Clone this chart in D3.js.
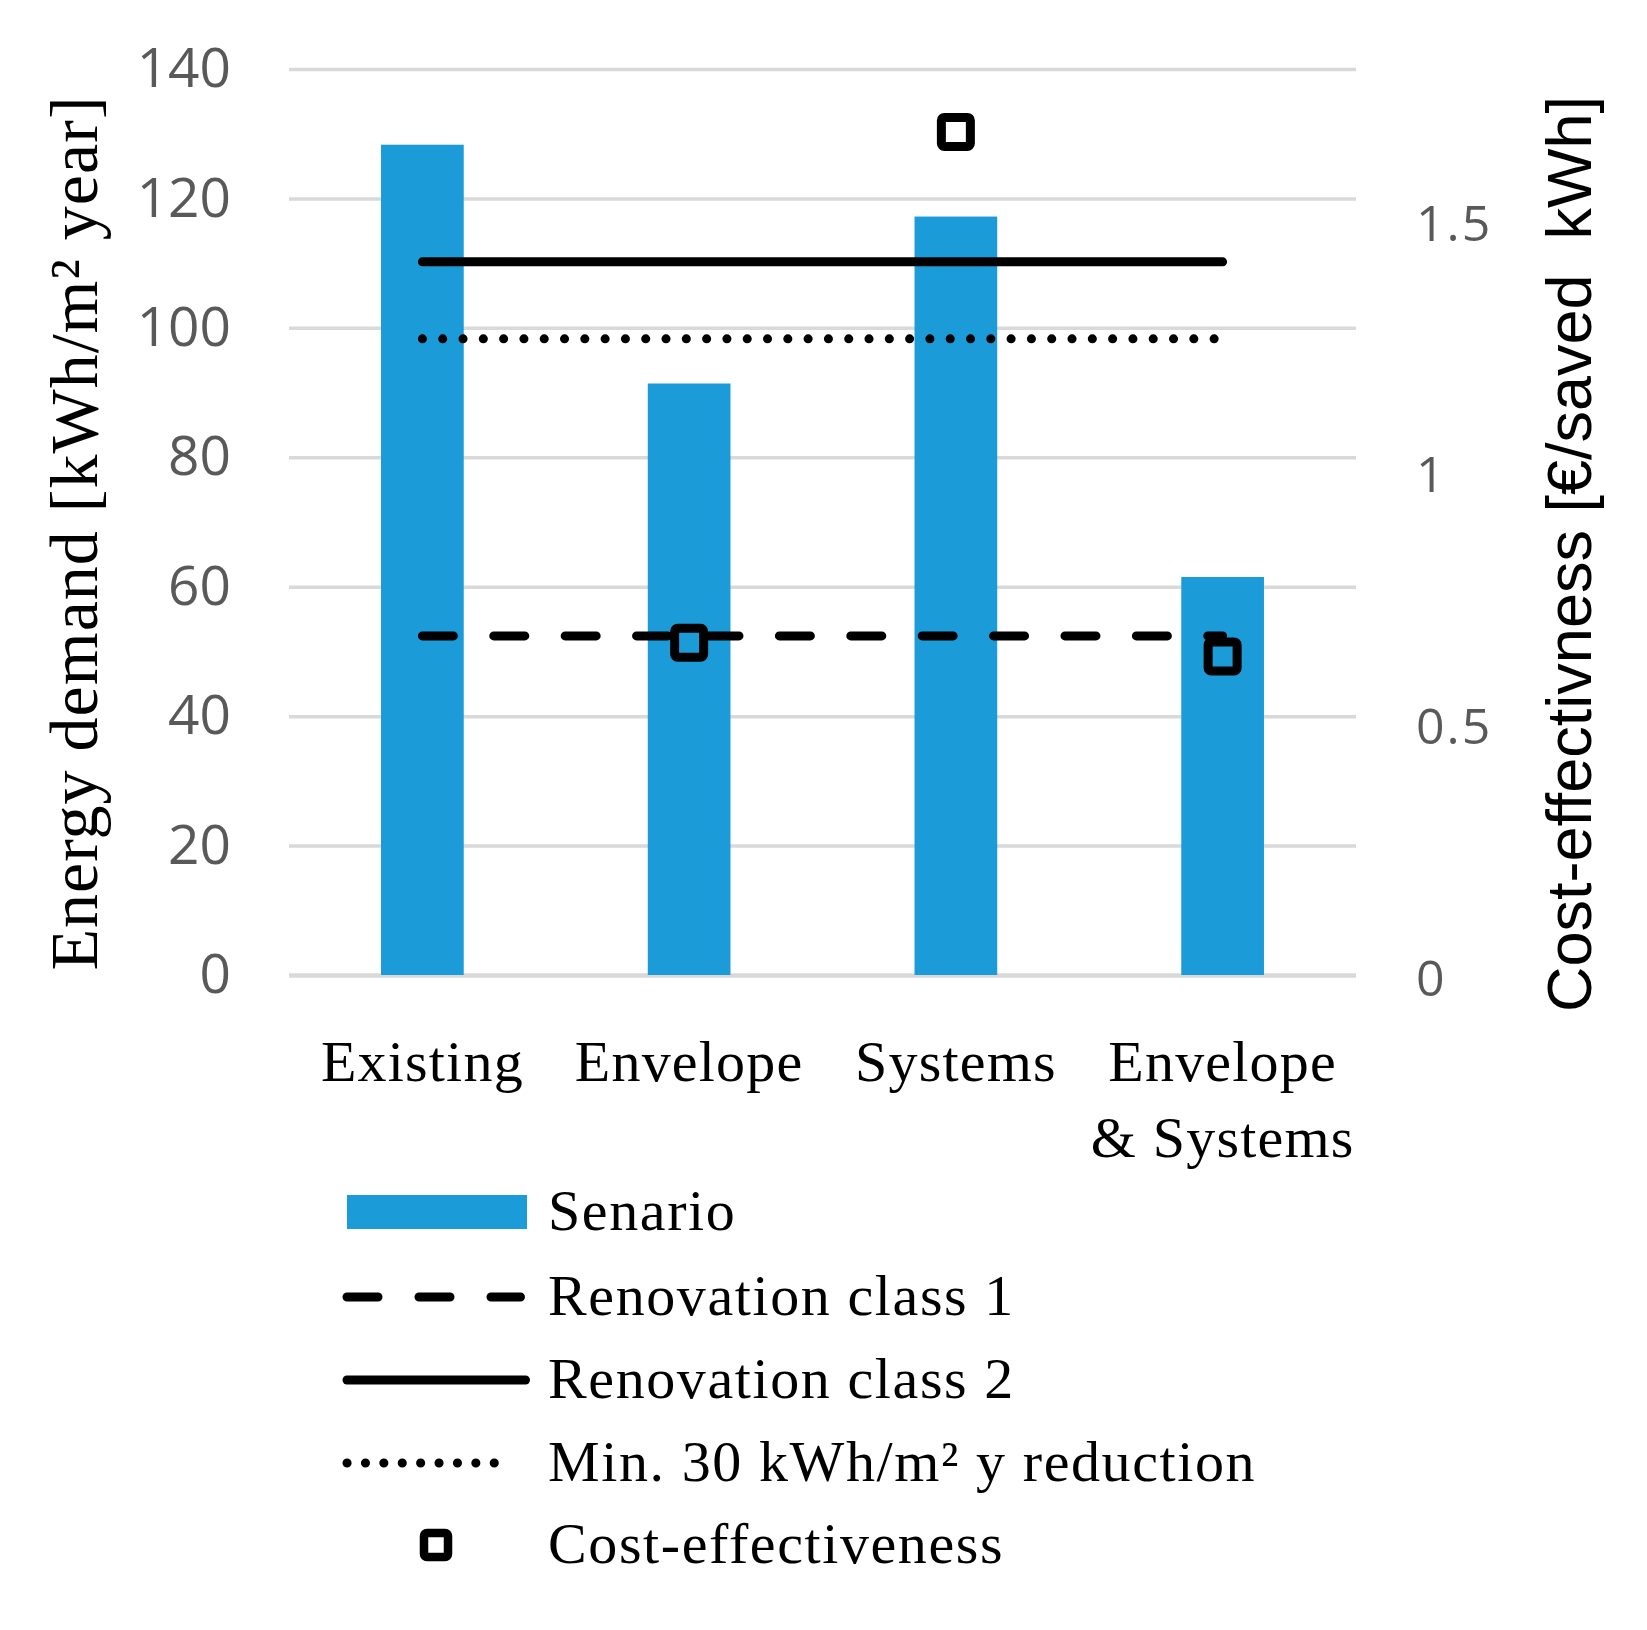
<!DOCTYPE html>
<html>
<head>
<meta charset="utf-8">
<script src="https://cdn.jsdelivr.net/npm/d3@7"></script>
<style>
  body { margin: 0; background: #fff; }
  text { white-space: pre; }
</style>
</head>
<body>
<div id="chart"></div>
<script>
// Chart data
const categories = ['Existing', 'Envelope', 'Systems', 'Envelope & Systems'];
const categoryLines = [['Existing'], ['Envelope'], ['Systems'], ['Envelope', '& Systems']];
const scenario = [128.3, 91.4, 117.2, 61.5];
const renovationClass1 = [52.4, 52.4, 52.4, 52.4];
const renovationClass2 = [110.2, 110.2, 110.2, 110.2];
const minReduction = [98.3, 98.3, 98.3, 98.3];
const costEffectiveness = [null, 0.66, 1.675, 0.633];
const leftTicks = [0, 20, 40, 60, 80, 100, 120, 140];
const rightTicks = [0, 0.5, 1, 1.5];

const width = 1647;
const height = 1630;
const plot = { left: 289, right: 1356, top: 69, bottom: 975 };
const barColor = '#1b9bd7';

const svg = d3.select('#chart').append('svg')
    .attr('width', width)
    .attr('height', height);

svg.append('rect')
    .attr('width', width)
    .attr('height', height)
    .attr('fill', '#fff');

// Scales
const xScale = d3.scaleBand()
    .domain(categories)
    .range([plot.left, plot.right])
    .paddingInner(0.69)
    .paddingOuter(0.345);

const xCenter = d => xScale(d) + xScale.bandwidth() / 2;

const yScale = d3.scaleLinear()
    .domain([0, 140])
    .range([plot.bottom, plot.top]);

const yRight = d3.scaleLinear()
    .domain([0, 1.8])
    .range([plot.bottom, plot.top]);

// Gridlines + left axis
const yAxis = d3.axisLeft(yScale)
    .tickValues(leftTicks)
    .tickSize(-(plot.right - plot.left))
    .tickPadding(plot.left - 231);

const gy = svg.append('g')
    .attr('transform', `translate(${plot.left}, 0)`)
    .call(yAxis);
gy.select('.domain').remove();
gy.selectAll('.tick line')
    .attr('stroke', '#d9d9d9')
    .attr('stroke-width', d => d === 0 ? 4.5 : 3.5);
gy.selectAll('.tick text')
    .attr('fill', '#595959')
    .style('font-family', '"Open Sans", sans-serif')
    .style('font-size', '55px');

// Right axis
const yAxisRight = d3.axisRight(yRight)
    .tickValues(rightTicks)
    .tickSize(0)
    .tickPadding(1416 - plot.right)
    .tickFormat(d3.format('~g'));

const gr = svg.append('g')
    .attr('transform', `translate(${plot.right}, 0)`)
    .call(yAxisRight);
gr.select('.domain').remove();
gr.selectAll('.tick text')
    .attr('fill', '#595959')
    .attr('dy', '0.4em')
    .style('font-family', '"Open Sans", sans-serif')
    .style('font-size', '50px')
    .style('letter-spacing', '2px');

// Bars
svg.selectAll('.bar')
    .data(categories)
    .enter().append('rect')
    .attr('class', 'bar')
    .attr('x', d => xScale(d))
    .attr('y', (d, i) => yScale(scenario[i]))
    .attr('width', xScale.bandwidth())
    .attr('height', (d, i) => plot.bottom - yScale(scenario[i]))
    .attr('fill', barColor);

// Threshold lines
const line = d3.line()
    .x((d, i) => xCenter(categories[i]))
    .y(d => yScale(d));

const lineStyles = [
    { values: renovationClass2, dash: null },
    { values: minReduction, dash: '0.1 20.2' },
    { values: renovationClass1, dash: '31 40.4' }
];

lineStyles.forEach(s => {
    svg.append('path')
        .datum(s.values)
        .attr('d', line)
        .attr('fill', 'none')
        .attr('stroke', '#000')
        .attr('stroke-width', 9)
        .attr('stroke-linecap', 'round')
        .attr('stroke-dasharray', s.dash);
});

// Cost-effectiveness markers
const markerSide = 29;
svg.selectAll('.marker')
    .data(categories.map((c, i) => ({ c, v: costEffectiveness[i] })).filter(d => d.v !== null))
    .enter().append('rect')
    .attr('class', 'marker')
    .attr('x', d => xCenter(d.c) - markerSide / 2)
    .attr('y', d => yRight(d.v) - markerSide / 2)
    .attr('width', markerSide)
    .attr('height', markerSide)
    .attr('rx', 3)
    .attr('fill', 'none')
    .attr('stroke', '#000')
    .attr('stroke-width', 9);

// X labels
const serif = '"Liberation Serif", "Times New Roman", serif';
categories.forEach((c, i) => {
    categoryLines[i].forEach((t, j) => {
        svg.append('text')
            .attr('x', xCenter(c))
            .attr('y', 1081 + j * 76)
            .attr('text-anchor', 'middle')
            .style('font-family', serif)
            .style('font-size', '58px')
            .style('letter-spacing', '1.2px')
            .text(t);
    });
});

// Axis titles
svg.append('text')
    .attr('transform', `translate(97, 533) rotate(-90)`)
    .attr('text-anchor', 'middle')
    .style('font-family', serif)
    .style('font-size', '68px')
    .style('letter-spacing', '1px')
    .text('Energy demand [kWh/m² year]');

svg.append('text')
    .attr('transform', `translate(1591, 554) rotate(-90)`)
    .attr('text-anchor', 'middle')
    .style('font-family', '"Liberation Sans", Arial, sans-serif')
    .style('font-size', '63px')
    .text('Cost-effectivness [€/saved  kWh]');

// Legend
const legend = svg.append('g').attr('class', 'legend');
const legendX = 347;
const legendRows = [1212, 1297, 1380, 1463, 1545];
const legendLabels = ['Senario', 'Renovation class 1', 'Renovation class 2',
    'Min. 30 kWh/m² y reduction', 'Cost-effectiveness'];

legend.append('rect')
    .attr('x', legendX)
    .attr('y', legendRows[0] - 17)
    .attr('width', 180)
    .attr('height', 34)
    .attr('fill', barColor);

[[legendRows[1], '31 41', 520.5], [legendRows[2], null, 525.5], [legendRows[3], '0.1 18.3', 512]]
    .forEach(([y, dash, x2]) => {
        legend.append('path')
            .attr('d', `M${legendX},${y}L${x2},${y}`)
            .attr('stroke', '#000')
            .attr('stroke-width', 9)
            .attr('stroke-linecap', 'round')
            .attr('stroke-dasharray', dash);
    });

legend.append('rect')
    .attr('x', 436 - 12)
    .attr('y', legendRows[4] - 12)
    .attr('width', 24)
    .attr('height', 24)
    .attr('rx', 3)
    .attr('fill', 'none')
    .attr('stroke', '#000')
    .attr('stroke-width', 8.5);

legend.selectAll('.legend-label')
    .data(legendLabels)
    .enter().append('text')
    .attr('class', 'legend-label')
    .attr('x', 548)
    .attr('y', (d, i) => legendRows[i] + 18)
    .style('font-family', serif)
    .style('font-size', '58px')
    .style('letter-spacing', '1.6px')
    .text(d => d);
</script>
</body>
</html>
